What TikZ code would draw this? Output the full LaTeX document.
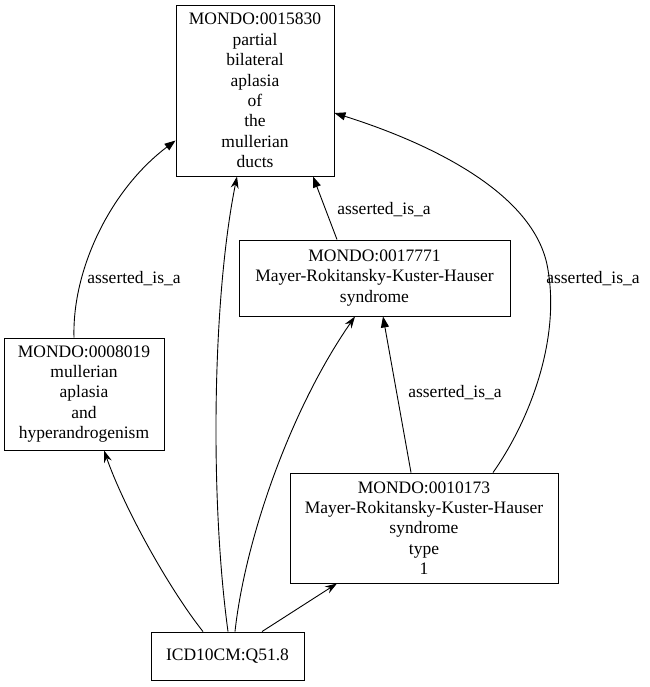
\documentclass[tikz,border=0pt]{standalone}
\usepackage{fontspec}
\setmainfont{Liberation Serif}
\usetikzlibrary{arrows.meta}
\begin{document}
\begin{tikzpicture}[x=1pt,y=1pt,
  box/.style={draw,line width=0.9pt,rectangle,inner sep=0pt,align=center,font=\fontsize{17.5}{20.4}\selectfont},
  lbl/.style={font=\fontsize{17.5}{20.4}\selectfont,inner sep=1pt},
  isa/.style={line width=0.9pt,-{Triangle[length=11pt,width=8pt]}},
  xref/.style={line width=0.9pt,-{Stealth[length=12pt,width=8pt,inset=4pt]}}]
\useasboundingbox (0,0) rectangle (649,-687);
\node[box,minimum width=158,minimum height=171] (A) at (255,-90.5) {MONDO:0015830\\partial\\bilateral\\aplasia\\of\\the\\mullerian\\ducts};
\node[box,minimum width=271,minimum height=76] (B) at (374.5,-278) {MONDO:0017771\\Mayer-Rokitansky-Kuster-Hauser\\syndrome};
\node[box,minimum width=160,minimum height=112] (C) at (84,-394) {MONDO:0008019\\mullerian\\aplasia\\and\\hyperandrogenism};
\node[box,minimum width=268,minimum height=110] (D) at (424,-528) {MONDO:0010173\\Mayer-Rokitansky-Kuster-Hauser\\syndrome\\type\\1};
\node[box,minimum width=153,minimum height=48] (E) at (227.5,-656) {ICD10CM:Q51.8};
% is_a edges
\draw[isa] ([xshift=-10pt]C.north) .. controls (72,-270) and (110,-190) .. ([yshift=-50pt]A.west);
\draw[isa] ([xshift=-37.5pt]B.north) -- ([xshift=58pt]A.south);
\draw[isa] ([xshift=69pt]D.north) .. controls (530,-420) and (560,-340) .. (548,-270)
  .. controls (536,-190) and (420,-140) .. ([yshift=-22.5pt]A.east);
\draw[isa] ([xshift=-13pt]D.north) -- ([xshift=8.5pt]B.south);
\node[lbl] (l1) at (134,-279) {asserted\_is\_a};
\node[lbl] (l2) at (384,-210) {asserted\_is\_a};
\node[lbl] (l3) at (593,-279) {asserted\_is\_a};
\node[lbl] (l4) at (455,-393) {asserted\_is\_a};
% xref edges
\draw[xref] ([xshift=0.5pt]E.north) .. controls (210,-500) and (212,-300) .. ([xshift=-18pt]A.south);
\draw[xref] ([xshift=-24.5pt]E.north) .. controls (170,-590) and (125,-510) .. ([xshift=20pt]C.south);
\draw[xref] ([xshift=7.5pt]E.north) .. controls (245,-540) and (290,-410) .. ([xshift=-19.5pt]B.south);
\draw[xref] ([xshift=34.5pt]E.north) -- ([xshift=-87pt]D.south);
\end{tikzpicture}
\end{document}
